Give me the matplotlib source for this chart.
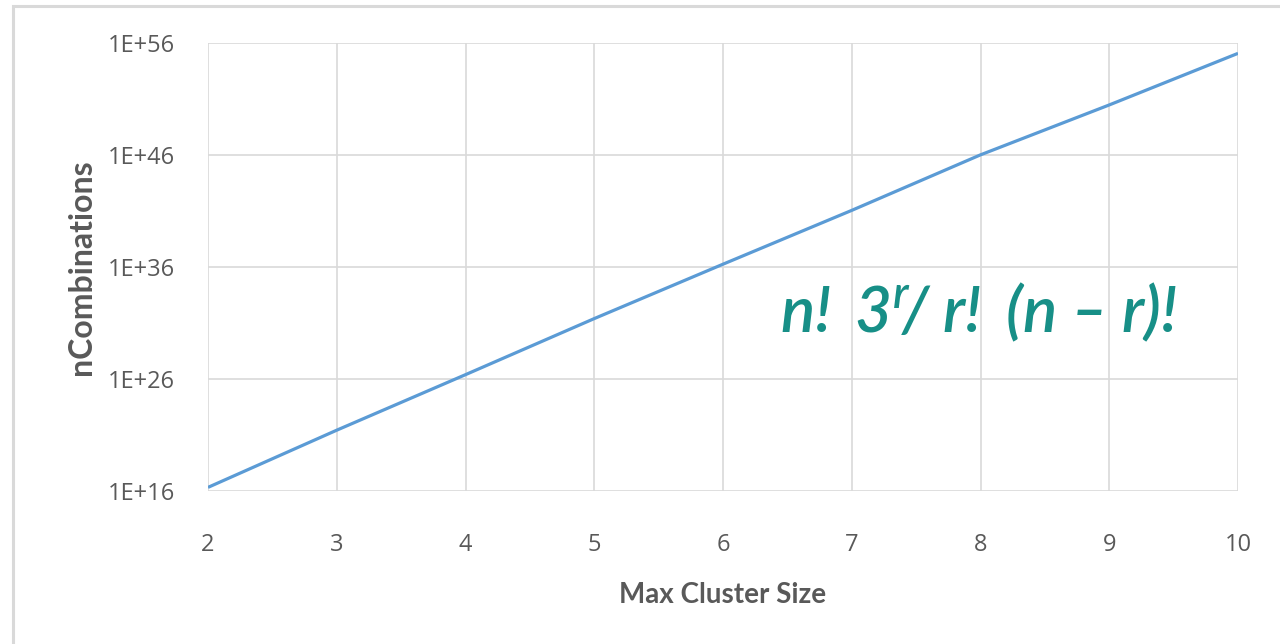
import matplotlib
matplotlib.use('Agg')
import matplotlib.pyplot as plt
from matplotlib.patches import Rectangle
from matplotlib.ticker import FixedLocator, FuncFormatter
import numpy as np

# max cluster size vs log10(number of combinations)
cluster_size = [2, 3, 4, 5, 6, 7, 8, 9, 10]
log_combinations = [16.35, 21.45, 26.4, 31.4, 36.25, 41.05, 46.0, 50.45, 55.05]
y_ticks = [16, 26, 36, 46, 56]

combinations = [10.0 ** v for v in log_combinations]

plt.rcParams['mathtext.fontset'] = 'custom'
plt.rcParams['mathtext.rm'] = 'Lato:italic:semibold'
plt.rcParams['mathtext.it'] = 'Lato:italic:semibold'

fig = plt.figure(figsize=(12.8, 6.44), dpi=100, facecolor='white')
ax = fig.add_axes([208 / 1280, 1 - 491.3 / 644, (1238 - 208) / 1280, (491.3 - 42.7) / 644])

# outer frame
fig.patches.append(Rectangle((13 / 1280, -0.1), 1.2, 1 - 6 / 644 + 0.1,
                             transform=fig.transFigure, fill=False,
                             edgecolor='#d9d9d9', linewidth=2.2))

ax.plot(cluster_size, combinations, color='#5b9bd5', linewidth=2.3, solid_capstyle='butt')
ax.set_yscale('log')
ax.set_xlim(2, 10)
ax.set_ylim(1e16, 1e56)

ax.yaxis.set_major_locator(FixedLocator([10.0 ** t for t in y_ticks]))
ax.yaxis.set_minor_locator(FixedLocator([]))
ax.yaxis.set_major_formatter(FuncFormatter(lambda v, p: '1E+%d' % round(np.log10(v))))
ax.set_xticks(cluster_size)

ax.grid(True, color='#d9d9d9', linewidth=1.2)
ax.set_axisbelow(True)
for s in ax.spines.values():
    s.set_visible(False)

ax.tick_params(axis='both', length=0, colors='#595959', labelsize=17)
ax.tick_params(axis='x', pad=30)
ax.tick_params(axis='y', pad=24)
for lab in ax.get_xticklabels() + ax.get_yticklabels():
    lab.set_family('Open Sans')

ax.set_xlabel('Max Cluster Size', fontsize=20, fontweight='bold', family='Lato',
              color='#595959', labelpad=18)
ax.set_ylabel('nCombinations', fontsize=23, fontweight='bold', family='Lato',
              color='#595959', labelpad=8)

ax.text(0.555, 0.395, r'$n!\;3^r\!/\;r!\;(n\;–\;r)!$', transform=ax.transAxes,
        fontsize=46, color='#178f87', ha='left', va='center')

fig.savefig('out.png', dpi=100, facecolor='white')
